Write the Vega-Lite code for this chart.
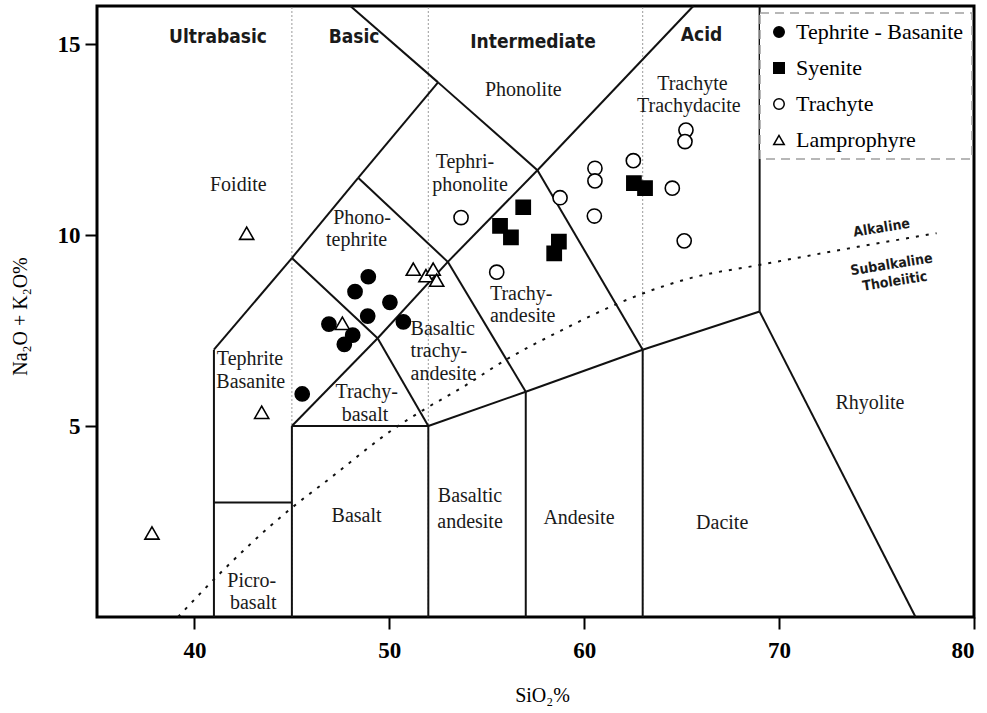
{
  "$schema": "https://vega.github.io/schema/vega-lite/v6.json",
  "width": 877,
  "height": 611,
  "autosize": {"type": "none"},
  "padding": {"left": 97, "top": 6, "right": 13, "bottom": 96},
  "background": "white",
  "config": {
    "font": "Liberation Serif",
    "view": {"stroke": "black", "strokeWidth": 3},
    "axis": {
      "grid": false, "domain": false, "ticks": true,
      "tickColor": "black", "tickWidth": 2, "tickSize": 12,
      "labelFont": "Liberation Serif", "labelFontWeight": "bold", "labelFontSize": 23, "labelColor": "black",
      "titleFont": "Liberation Serif", "titleFontWeight": "normal", "titleFontSize": 20, "titleColor": "black"
    },
    "legend": {
      "orient": "none", "legendX": 663, "legendY": 7,
      "padding": 8, "strokeColor": "#a0a0a0", "strokeDash": [9, 6], "strokeWidth": 1.5,
      "fillColor": "white",
      "labelFont": "Liberation Serif", "labelFontSize": 22, "labelColor": "black", "labelLimit": 300,
      "symbolSize": 110, "symbolStrokeWidth": 1.5, "symbolStrokeColor": "black",
      "rowPadding": 14, "labelOffset": 6
    }
  },
  "datasets": {
    "grid": [
      {"x": 45, "y": 0, "y2": 16},
      {"x": 52, "y": 0, "y2": 16},
      {"x": 63, "y": 0, "y2": 16}
    ],
    "seg": [
      {"x": 41, "y": 0, "x2": 41, "y2": 7},
      {"x": 41, "y": 3, "x2": 45, "y2": 3},
      {"x": 45, "y": 0, "x2": 45, "y2": 5},
      {"x": 41, "y": 7, "x2": 45, "y2": 9.4},
      {"x": 45, "y": 9.4, "x2": 48.4, "y2": 11.5},
      {"x": 48.4, "y": 11.5, "x2": 52.5, "y2": 14},
      {"x": 48.0, "y": 16, "x2": 52.5, "y2": 14},
      {"x": 52.5, "y": 14, "x2": 57.6, "y2": 11.7},
      {"x": 57.6, "y": 11.7, "x2": 63, "y2": 7},
      {"x": 57.6, "y": 11.7, "x2": 65.6, "y2": 16},
      {"x": 45, "y": 5, "x2": 49.4, "y2": 7.3},
      {"x": 49.4, "y": 7.3, "x2": 53, "y2": 9.3},
      {"x": 53, "y": 9.3, "x2": 57.6, "y2": 11.7},
      {"x": 45, "y": 9.4, "x2": 49.4, "y2": 7.3},
      {"x": 49.4, "y": 7.3, "x2": 52, "y2": 5},
      {"x": 48.4, "y": 11.5, "x2": 53, "y2": 9.3},
      {"x": 53, "y": 9.3, "x2": 57, "y2": 5.9},
      {"x": 45, "y": 5, "x2": 52, "y2": 5},
      {"x": 52, "y": 5, "x2": 57, "y2": 5.9},
      {"x": 57, "y": 5.9, "x2": 63, "y2": 7},
      {"x": 63, "y": 7, "x2": 69, "y2": 8},
      {"x": 52, "y": 0, "x2": 52, "y2": 5},
      {"x": 57, "y": 0, "x2": 57, "y2": 5.9},
      {"x": 63, "y": 0, "x2": 63, "y2": 7},
      {"x": 69, "y": 8, "x2": 69, "y2": 16},
      {"x": 69, "y": 8, "x2": 77, "y2": 0}
    ],
    "curve": [
      {"x": 39.16, "y": 0},
      {"x": 40.8, "y": 0.88},
      {"x": 44.9, "y": 2.82},
      {"x": 46.85, "y": 3.59},
      {"x": 50.38, "y": 4.98},
      {"x": 51.74, "y": 5.42},
      {"x": 53.8, "y": 6.03},
      {"x": 55.93, "y": 6.72},
      {"x": 58.81, "y": 7.5},
      {"x": 61.69, "y": 8.2},
      {"x": 63.0, "y": 8.47},
      {"x": 65.5, "y": 8.88},
      {"x": 69.0, "y": 9.22},
      {"x": 73.12, "y": 9.61},
      {"x": 78.08, "y": 10.05}
    ],
    "samples": [
      {"type": "Tephrite - Basanite", "x": 48.92, "y": 8.91},
      {"type": "Tephrite - Basanite", "x": 48.24, "y": 8.52},
      {"type": "Tephrite - Basanite", "x": 50.03, "y": 8.24},
      {"type": "Tephrite - Basanite", "x": 48.89, "y": 7.88},
      {"type": "Tephrite - Basanite", "x": 50.72, "y": 7.73},
      {"type": "Tephrite - Basanite", "x": 46.90, "y": 7.67},
      {"type": "Tephrite - Basanite", "x": 48.12, "y": 7.38},
      {"type": "Tephrite - Basanite", "x": 47.69, "y": 7.14},
      {"type": "Tephrite - Basanite", "x": 45.53, "y": 5.84},
      {"type": "Syenite", "x": 56.87, "y": 10.73},
      {"type": "Syenite", "x": 55.68, "y": 10.24},
      {"type": "Syenite", "x": 56.24, "y": 9.94},
      {"type": "Syenite", "x": 58.70, "y": 9.83},
      {"type": "Syenite", "x": 58.46, "y": 9.52},
      {"type": "Syenite", "x": 62.55, "y": 11.36},
      {"type": "Syenite", "x": 63.12, "y": 11.23},
      {"type": "Trachyte", "x": 53.68, "y": 10.46},
      {"type": "Trachyte", "x": 58.76, "y": 10.98},
      {"type": "Trachyte", "x": 60.55, "y": 11.75},
      {"type": "Trachyte", "x": 60.55, "y": 11.42},
      {"type": "Trachyte", "x": 60.52, "y": 10.50},
      {"type": "Trachyte", "x": 62.52, "y": 11.95},
      {"type": "Trachyte", "x": 65.22, "y": 12.75},
      {"type": "Trachyte", "x": 65.17, "y": 12.45},
      {"type": "Trachyte", "x": 64.52, "y": 11.23},
      {"type": "Trachyte", "x": 65.13, "y": 9.85},
      {"type": "Trachyte", "x": 55.51, "y": 9.03},
      {"type": "Lamprophyre", "x": 47.59, "y": 7.69},
      {"type": "Lamprophyre", "x": 51.23, "y": 9.11},
      {"type": "Lamprophyre", "x": 51.88, "y": 8.94},
      {"type": "Lamprophyre", "x": 52.25, "y": 9.11},
      {"type": "Lamprophyre", "x": 52.43, "y": 8.82},
      {"type": "Lamprophyre", "x": 42.68, "y": 10.05},
      {"type": "Lamprophyre", "x": 43.45, "y": 5.36},
      {"type": "Lamprophyre", "x": 37.82, "y": 2.20}
    ],
    "names": [
      {"label": "Foidite", "x": 42.25, "y": 11.31},
      {"label": "Phono-", "x": 48.6, "y": 10.45},
      {"label": "tephrite", "x": 48.32, "y": 9.86},
      {"label": "Tephri-", "x": 53.88, "y": 11.92},
      {"label": "phonolite", "x": 54.14, "y": 11.32},
      {"label": "Phonolite", "x": 56.87, "y": 13.8},
      {"label": "Trachyte", "x": 65.55, "y": 13.96},
      {"label": "Trachydacite", "x": 65.37, "y": 13.37},
      {"label": "Tephrite", "x": 42.85, "y": 6.76},
      {"label": "Basanite", "x": 42.89, "y": 6.15},
      {"label": "Trachy-", "x": 48.84, "y": 5.9},
      {"label": "basalt", "x": 48.75, "y": 5.28},
      {"label": "Basalt", "x": 48.32, "y": 2.64},
      {"label": "Basaltic", "x": 54.14, "y": 3.16},
      {"label": "andesite", "x": 54.14, "y": 2.5},
      {"label": "Andesite", "x": 59.73, "y": 2.58},
      {"label": "Dacite", "x": 67.08, "y": 2.45},
      {"label": "Rhyolite", "x": 74.66, "y": 5.6},
      {"label": "Picro-", "x": 42.94, "y": 0.93},
      {"label": "basalt", "x": 43.02, "y": 0.37}
    ],
    "leftnames": [
      {"label": "Basaltic", "x": 51.09, "y": 7.55},
      {"label": "trachy-", "x": 51.09, "y": 6.96},
      {"label": "andesite", "x": 51.09, "y": 6.37},
      {"label": "Trachy-", "x": 55.16, "y": 8.46},
      {"label": "andesite", "x": 55.16, "y": 7.88}
    ],
    "groups": [
      {"label": "Ultrabasic", "x": 41.21, "y": 15.2},
      {"label": "Basic", "x": 48.19, "y": 15.18},
      {"label": "Intermediate", "x": 57.37, "y": 15.06},
      {"label": "Acid", "x": 66.02, "y": 15.24}
    ],
    "series": [
      {"label": "Alkaline", "x": 75.26, "y": 10.18},
      {"label": "Subalkaline", "x": 75.77, "y": 9.22},
      {"label": "Tholeiitic", "x": 75.94, "y": 8.78}
    ]
  },
  "encoding": {
    "x": {
      "field": "x", "type": "quantitative",
      "scale": {"domain": [35, 80], "nice": false, "zero": false},
      "axis": {"values": [40, 50, 60, 70, 80], "title": "SiO₂%", "labelPadding": 10, "titleX": 445, "titleY": 78, "titleBaseline": "middle"}
    },
    "y": {
      "field": "y", "type": "quantitative",
      "scale": {"domain": [0, 16], "nice": false, "zero": false},
      "axis": {"values": [5, 10, 15], "title": "Na₂O + K₂O%", "labelPadding": 5, "titleX": -77, "titleY": 310, "titleAngle": -90, "titleBaseline": "middle", "titleAlign": "center"}
    }
  },
  "layer": [
    {
      "data": {"name": "grid"},
      "mark": {"type": "rule", "stroke": "#9a9a9a", "strokeWidth": 1, "strokeDash": [2, 2]},
      "encoding": {"y2": {"field": "y2"}}
    },
    {
      "data": {"name": "seg"},
      "mark": {"type": "rule", "stroke": "#111111", "strokeWidth": 2},
      "encoding": {"x2": {"field": "x2"}, "y2": {"field": "y2"}}
    },
    {
      "data": {"name": "curve"},
      "mark": {"type": "line", "stroke": "#111111", "strokeWidth": 2, "strokeDash": [3, 7], "interpolate": "monotone"},
      "encoding": {}
    },
    {
      "data": {"name": "names"},
      "mark": {"type": "text", "font": "Liberation Serif", "fontSize": 20, "color": "#1a1a1a", "align": "center", "baseline": "middle"},
      "encoding": {"text": {"field": "label"}}
    },
    {
      "data": {"name": "leftnames"},
      "mark": {"type": "text", "font": "Liberation Serif", "fontSize": 20, "color": "#1a1a1a", "align": "left", "baseline": "middle"},
      "encoding": {"text": {"field": "label"}}
    },
    {
      "data": {"name": "groups"},
      "mark": {"type": "text", "font": "DejaVu Sans Condensed, sans-serif", "fontWeight": "bold", "fontSize": 19, "color": "#1a1a1a", "align": "center", "baseline": "middle"},
      "encoding": {"text": {"field": "label"}}
    },
    {
      "data": {"name": "series"},
      "mark": {"type": "text", "font": "DejaVu Sans Condensed, sans-serif", "fontWeight": "bold", "fontSize": 14, "color": "#1a1a1a", "align": "center", "baseline": "middle", "angle": 351},
      "encoding": {"text": {"field": "label"}}
    },
    {
      "data": {"name": "samples"},
      "mark": {"type": "point", "filled": false, "strokeWidth": 1.6, "size": 200, "opacity": 1},
      "encoding": {
        "shape": {
          "field": "type", "type": "nominal",
          "scale": {"domain": ["Tephrite - Basanite", "Syenite", "Trachyte", "Lamprophyre"], "range": ["circle", "square", "circle", "triangle-up"]},
          "legend": {"title": null, "symbolStrokeColor": "black"}
        },
        "fill": {
          "field": "type", "type": "nominal",
          "scale": {"domain": ["Tephrite - Basanite", "Syenite", "Trachyte", "Lamprophyre"], "range": ["black", "black", "white", "white"]},
          "legend": {"title": null, "symbolStrokeColor": "black"}
        },
        "stroke": {
          "field": "type", "type": "nominal",
          "scale": {"domain": ["Tephrite - Basanite", "Syenite", "Trachyte", "Lamprophyre"], "range": ["black", "black", "black", "black"]},
          "legend": {"title": null, "symbolStrokeColor": "black"}
        }
      }
    }
  ]
}
